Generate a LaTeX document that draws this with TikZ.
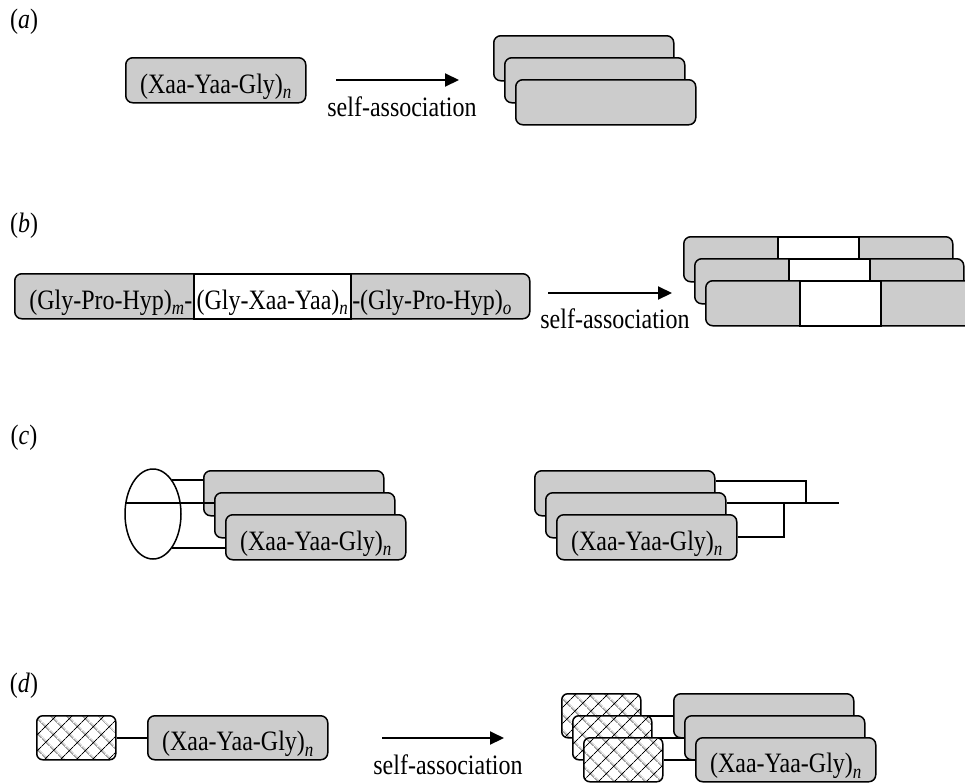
\documentclass[tikz,border=0pt]{standalone}
\usepackage{fontspec}
\setmainfont{Liberation Serif}
\usepackage{graphicx}
\usepackage{tikz}
\usetikzlibrary{arrows.meta,patterns.meta,shapes.geometric}

\newcommand\tall[1]{\scalebox{1}[1.17]{#1}}
\newcommand\lowsub[1]{\raisebox{-4.5pt}{\fontsize{17}{17}\selectfont\itshape #1}}
\newcommand\peptide{\tall{(Xaa-Yaa-Gly)\lowsub{n}}}

\tikzdeclarepattern{
  name=xnet,
  type=uncolored,
  bottom left={(0pt,0pt)},
  top right={(11pt,11pt)},
  tile size={(11pt,11pt)},
  tile transformation={rotate=45},
  code={
    \pgfsetlinewidth{0.9pt}
    \pgfpathmoveto{\pgfpoint{0pt}{5.5pt}}
    \pgfpathlineto{\pgfpoint{11pt}{5.5pt}}
    \pgfpathmoveto{\pgfpoint{5.5pt}{0pt}}
    \pgfpathlineto{\pgfpoint{5.5pt}{11pt}}
    \pgfusepath{stroke}
  }
}

\begin{document}
\begin{tikzpicture}[x=1pt,y=-1pt,line width=1.5pt,
    every node/.style={font=\fontsize{24}{28}\selectfont},
    box/.style={draw, rounded corners=7pt, fill=black!20, anchor=north west, inner sep=0pt,
      minimum width=180pt, minimum height=45pt, text height=26pt, text depth=0pt},
    seg/.style={draw, fill=white, anchor=north west, inner sep=0pt,
      minimum height=45pt, text height=26pt, text depth=0pt},
    net/.style={draw, rounded corners=6pt, preaction={fill=white}, pattern=xnet, pattern color=black,
      anchor=north west, inner sep=0pt, minimum width=79pt, minimum height=44pt},
    link/.style={line width=2pt},
    assoc/.style={line width=2pt, -{Triangle[length=14pt,width=13pt]}}]
  \useasboundingbox (0,0) rectangle (965,782);

  \node (la) at (24,22) {\tall{(\textit{a})}};
  \node[box] (a0) at (125,57) {\peptide};
  \coordinate (as) at (336,80);
  \coordinate (ae) at (459,80);
  \draw[assoc] (as) -- (ae);
  \node[anchor=base] (at) at (402,116) {\tall{self-association}};
  \node[box] (a1) at (493,35) {};
  \node[box] (a2) at (504,57) {};
  \node[box] (a3) at (515,79) {};

  \node (lb) at (24,226) {\tall{(\textit{b})}};
  \node[box, minimum width=515pt] (b0) at (14,273) {};
  \node[seg, minimum width=157pt] (bm) at (193,273) {\tall{(Gly-Xaa-Yaa)\lowsub{n}}};
  \node[anchor=base east, inner sep=0pt] (bl) at (bm.base west) {\tall{(Gly-Pro-Hyp)\lowsub{m}-}};
  \node[anchor=base west, inner sep=0pt] (br) at (bm.base east) {\tall{-(Gly-Pro-Hyp)\lowsub{o}}};
  \coordinate (bs) at (548,293);
  \coordinate (be) at (672,293);
  \draw[assoc] (bs) -- (be);
  \node[anchor=base] (bt) at (615,328) {\tall{self-association}};
  \node[box, minimum width=269pt] (b1) at (683,236) {};
  \node[seg, minimum width=81pt] (b1m) at (777,236) {};
  \node[box, minimum width=269pt] (b2) at (694,258) {};
  \node[seg, minimum width=81pt] (b2m) at (788,258) {};
  \node[box, minimum width=269pt] (b3) at (705,280) {};
  \node[seg, minimum width=81pt] (b3m) at (799,280) {};

  \node (lc) at (24,438) {\tall{(\textit{c})}};
  \node[draw, ellipse, inner sep=0pt, minimum width=56pt, minimum height=90pt] (ring) at (153,514) {};
  \node[box] (c1) at (203,470) {};
  \draw[link] (ring.60) -- (ring.60 -| c1.west);
  \draw[link] (ring.158) -- (ring.158 -| c1.center);
  \node[box] (c2) at (214,492) {};
  \node[box] (c3) at (225,514) {\peptide};
  \draw[link] (ring.-60) -- (ring.-60 -| c3.west);

  \node[box] (r1) at (534,470) {};
  \node[box] (r2) at (545,492) {};
  \node[box] (r3) at (556,514) {\peptide};
  \coordinate (j1) at (806,503);
  \coordinate (j2) at (784,503);
  \coordinate (tail) at (839,503);
  \draw[link] ([yshift=-11pt]r1.north east) -| (j1);
  \draw[link] ([yshift=-11pt]r2.north east) -- (tail);
  \draw[link] (r3.east) -| (j2);

  \node (ld) at (24,686) {\tall{(\textit{d})}};
  \node[net] (h0) at (36,715) {};
  \node[box, minimum height=44pt] (g0) at (147,715) {\peptide};
  \draw[link] (h0) -- (g0);
  \coordinate (ds) at (382,738);
  \coordinate (de) at (504,738);
  \draw[assoc] (ds) -- (de);
  \node[anchor=base] (dt) at (448,774) {\tall{self-association}};
  \node[net] (h1) at (561,693) {};
  \node[box, minimum height=44pt] (g1) at (673,693) {};
  \draw[link] (h1) -- (g1);
  \node[net] (h2) at (572,715) {};
  \node[box, minimum height=44pt] (g2) at (684,715) {};
  \draw[link] (h2) -- (g2);
  \node[net] (h3) at (583,737) {};
  \node[box, minimum height=44pt] (g3) at (695,737) {\peptide};
  \draw[link] (h3) -- (g3);
\end{tikzpicture}
\end{document}
